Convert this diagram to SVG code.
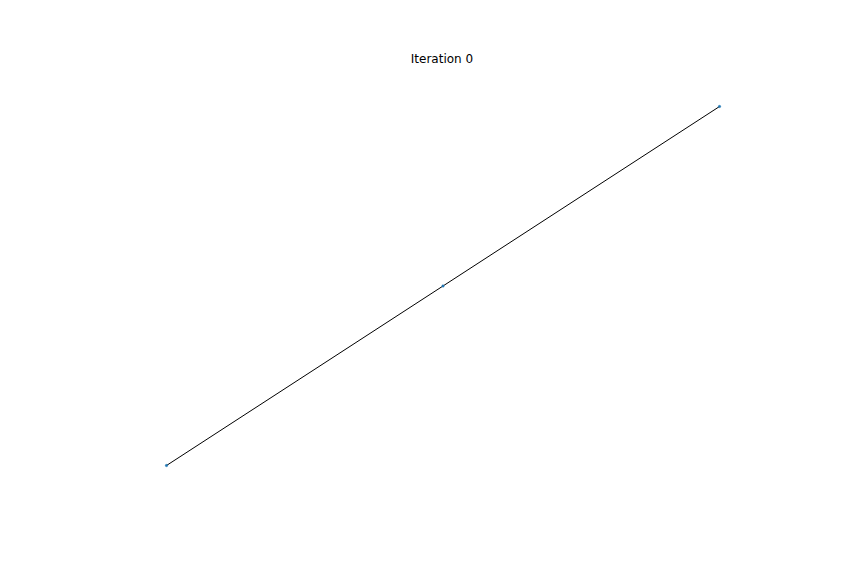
<svg xmlns="http://www.w3.org/2000/svg" width="864" height="576" viewBox="0 0 864 576">
<style>
.node{fill:#1f77b4;stroke:#1f77b4;stroke-width:0.5}
.edge{stroke:#000;stroke-width:1;fill:none}
.title{font-family:"DejaVu Sans",sans-serif;font-size:12px;fill:#000}
</style>
<rect width="864" height="576" fill="#fff"/>
<text class="title" x="442" y="63" text-anchor="middle">Iteration 0</text>
<g id="connectors">
<line class="edge" x1="166.5" y1="465.5" x2="443" y2="286"/>
<line class="edge" x1="443" y1="286" x2="719.5" y2="106.5"/>
</g>
<g id="n0"><circle class="node" cx="166.5" cy="465.5" r="1.2"/></g>
<g id="n1"><circle class="node" cx="443" cy="286" r="1.2"/></g>
<g id="n2"><circle class="node" cx="719.5" cy="106.5" r="1.2"/></g>
</svg>
